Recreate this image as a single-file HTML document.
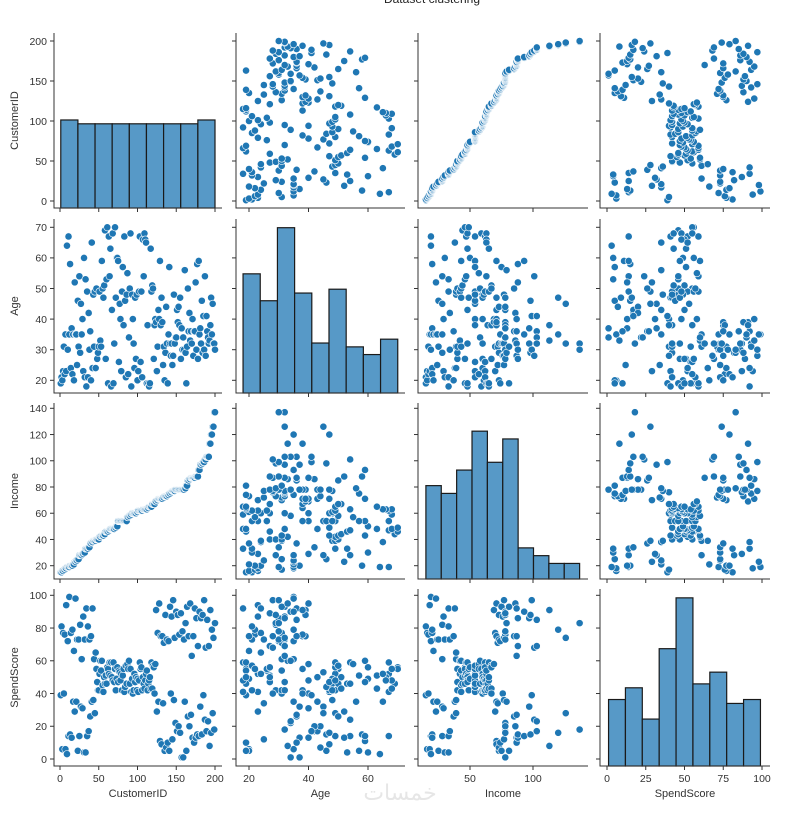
<!DOCTYPE html>
<html><head><meta charset="utf-8"><style>
html,body{margin:0;padding:0;background:#fff;}
svg{display:block;font-family:"Liberation Sans","DejaVu Sans",sans-serif;}
</style></head><body>
<svg id="chart" width="800" height="818" viewBox="0 0 800 818" xmlns="http://www.w3.org/2000/svg">
<text x="432" y="3" font-size="12" text-anchor="middle" fill="#222">Dataset clustering</text>
<text x="400" y="800" font-size="22" text-anchor="middle" fill="#e6e6e6" font-family="'DejaVu Sans',sans-serif">خمسات</text>
</svg>
<script>
const variables = ["CustomerID","Age","Income","SpendScore"];
const customerID = [1,2,3,4,5,6,7,8,9,10,11,12,13,14,15,16,17,18,19,20,21,22,23,24,25,26,27,28,29,30,31,32,33,34,35,36,37,38,39,40,41,42,43,44,45,46,47,48,49,50,51,52,53,54,55,56,57,58,59,60,61,62,63,64,65,66,67,68,69,70,71,72,73,74,75,76,77,78,79,80,81,82,83,84,85,86,87,88,89,90,91,92,93,94,95,96,97,98,99,100,101,102,103,104,105,106,107,108,109,110,111,112,113,114,115,116,117,118,119,120,121,122,123,124,125,126,127,128,129,130,131,132,133,134,135,136,137,138,139,140,141,142,143,144,145,146,147,148,149,150,151,152,153,154,155,156,157,158,159,160,161,162,163,164,165,166,167,168,169,170,171,172,173,174,175,176,177,178,179,180,181,182,183,184,185,186,187,188,189,190,191,192,193,194,195,196,197,198,199,200];
const age = [19,21,20,23,31,22,35,23,64,30,67,35,58,24,37,22,35,20,52,35,35,25,46,31,54,29,45,35,40,23,60,21,53,18,49,21,42,30,36,20,65,24,48,31,49,24,50,27,29,31,49,33,31,59,50,47,51,69,27,53,70,19,67,54,63,18,43,68,19,32,70,47,60,60,59,26,45,40,23,49,57,38,67,46,21,48,55,22,34,50,68,18,48,40,32,24,47,27,48,20,23,49,67,26,49,21,66,54,68,66,65,19,38,19,18,19,63,49,51,50,27,38,40,39,23,31,43,40,59,38,47,39,25,31,20,29,44,32,19,35,57,32,28,32,25,28,48,32,34,34,43,39,44,38,47,27,37,30,34,30,56,29,19,31,50,36,42,33,36,32,40,28,36,36,52,30,58,27,59,35,37,32,46,29,41,30,54,28,41,36,34,32,33,38,47,35,45,32,32,30];
const income = [15,15,16,16,17,17,18,18,19,19,19,19,20,20,20,20,21,21,23,23,24,24,25,25,28,28,28,28,29,29,30,30,33,33,33,33,34,34,37,37,38,38,39,39,39,39,40,40,40,40,42,42,43,43,43,43,44,44,46,46,46,46,47,47,48,48,48,48,48,48,49,49,50,50,54,54,54,54,54,54,54,54,54,54,54,54,57,57,58,58,59,59,60,60,60,60,60,60,61,61,62,62,62,62,62,62,63,63,63,63,63,63,64,64,65,65,65,65,67,67,67,67,69,69,70,70,71,71,71,71,71,71,72,72,73,73,73,73,74,74,75,75,76,76,77,77,77,77,78,78,78,78,78,78,78,78,78,78,78,78,79,79,81,81,85,85,86,86,87,87,87,87,87,87,88,88,88,88,93,93,97,97,98,98,99,99,101,101,103,103,103,103,113,113,120,120,126,126,137,137];
const spendScore = [39,81,6,77,40,76,6,94,3,72,14,99,15,77,13,79,35,66,29,98,35,73,5,73,14,82,32,61,31,87,4,73,4,92,14,81,17,73,26,75,35,92,36,61,28,65,55,47,42,42,52,60,54,60,45,41,50,46,51,46,56,55,52,59,51,59,50,48,59,47,55,42,49,56,47,54,53,48,52,42,51,55,41,44,57,46,58,55,60,46,55,41,49,40,42,52,47,50,42,49,41,48,59,55,56,42,50,46,43,48,52,54,42,46,48,50,43,59,43,57,56,40,58,91,29,77,35,95,11,75,9,75,34,71,5,88,7,73,10,72,5,93,40,87,12,97,36,74,22,90,17,88,20,76,16,89,1,78,1,73,35,83,5,93,26,75,20,95,27,63,13,75,10,92,13,86,15,69,14,90,32,86,15,88,39,97,24,68,17,85,23,69,8,91,16,79,28,74,18,83];
const binCounts = [9, 9, 10, 9];
const xTicks = [[0,50,100,150,200],[20,40,60],[50,100],[0,25,50,75,100]];
const yTicks = [[0,50,100,150,200],[20,30,40,50,60,70],[20,40,60,80,100,120,140],[0,20,40,60,80,100]];

const NS = "http://www.w3.org/2000/svg";
const svg = document.getElementById("chart");
const series = [customerID, age, income, spendScore];
// layout (pixels)
const colBox = [[54,222],[236,405],[418,588],[600,770]];
const rowBox = [[33,208],[219,393],[403,579],[589,766]];
// linear maps: [v1,p1,v2,p2]
const xMap = [[0,60,200,215],[20,249,60,368],[50,470,100,533],[0,607,100,762]];
const yMap = [[0,201,200,41],[20,380.3,70,227.3],[20,565.7,140,408.3],[0,759,100,595.3]];
const histFill = [0.503, 0.95, 0.84, 0.95];
function lin(m){ return v => m[1] + (v - m[0]) * (m[3] - m[1]) / (m[2] - m[0]); }
function mk(tag, attrs, parent){
  const e = document.createElementNS(NS, tag);
  for (const k in attrs) e.setAttribute(k, attrs[k]);
  (parent || svg).appendChild(e);
  return e;
}
for (let r = 0; r < 4; r++){
  for (let c = 0; c < 4; c++){
    const g = mk("g", {});
    
    
    const [x0,x1] = colBox[c], [y0,y1] = rowBox[r];
    const sx = lin(xMap[c]), sy = lin(yMap[r]);
    if (r === c){
      const d = series[c];
      const mn = Math.min(...d), mx = Math.max(...d), nb = binCounts[c];
      const w = (mx - mn) / nb;
      const counts = new Array(nb).fill(0);
      d.forEach(v => { let b = Math.floor((v - mn) / w); if (b >= nb) b = nb - 1; counts[b]++; });
      const maxC = Math.max(...counts);
      const hy = cnt => y1 - (cnt / maxC) * histFill[c] * (y1 - y0);
      counts.forEach((cnt, i) => {
        const a = sx(mn + i * w), b = sx(mn + (i + 1) * w);
        const bar = mk("rect", {x: a, y: hy(cnt), width: b - a, height: y1 - hy(cnt), fill: "#5799c7", stroke: "#1a1a1a", "stroke-width": 1.2}, g);
        
        
      });
    } else {
      const xs = series[c], ys = series[r];
      for (let i = 0; i < xs.length; i++){
        const p = mk("circle", {cx: sx(xs[i]), cy: sy(ys[i]), r: 3.6, fill: "#1f77b4", stroke: "#fff", "stroke-width": 0.6}, g);
        
        
      }
    }
    // spines
    const sp = mk("path", {d: `M${x0},${y0}V${y1}H${x1}`, fill: "none", stroke: "#333", "stroke-width": 1}, g);
    
    
    xTicks[c].forEach(t => {
      const x = sx(t);
      mk("line", {x1: x, x2: x, y1: y1, y2: y1 + 4, stroke: "#333", "stroke-width": 1}, g);
      if (r === 3){
        const tl = mk("text", {x: x, y: y1 + 16, "font-size": 10.5, "text-anchor": "middle", fill: "#333"}, g);
        tl.textContent = t;
        
        
      }
    });
    yTicks[r].forEach(t => {
      const y = sy(t);
      mk("line", {x1: x0 - 4, x2: x0, y1: y, y2: y, stroke: "#333", "stroke-width": 1}, g);
      if (c === 0){
        const tl = mk("text", {x: x0 - 7, y: y + 3.8, "font-size": 10.5, "text-anchor": "end", fill: "#333"}, g);
        tl.textContent = t;
        
        
      }
    });
  }
}
variables.forEach((v, i) => {
  const xl = mk("text", {x: (colBox[i][0] + colBox[i][1]) / 2, y: 797, "font-size": 11, "text-anchor": "middle", fill: "#333"});
  xl.textContent = v;
  
  
  const cy = (rowBox[i][0] + rowBox[i][1]) / 2;
  const yl = mk("text", {x: 0, y: 0, "font-size": 11, "text-anchor": "middle", fill: "#333", transform: `translate(18,${cy}) rotate(-90)`});
  yl.textContent = v;
  
  
});
</script>
</body></html>
